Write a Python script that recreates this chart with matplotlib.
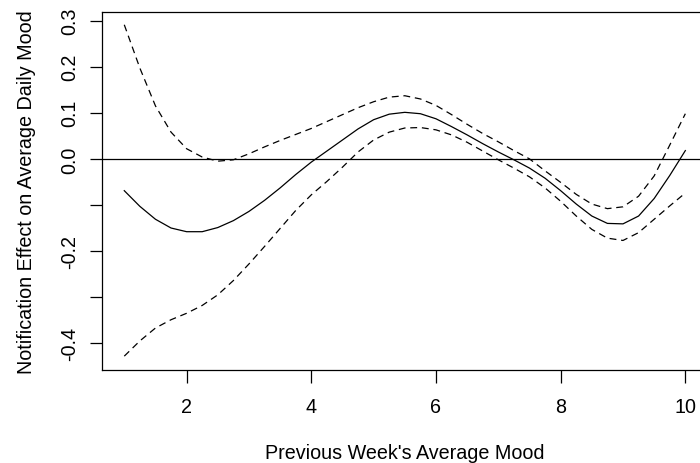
import matplotlib
matplotlib.use("Agg")
import matplotlib.pyplot as plt

plt.rcParams.update(
    {
        "font.family": ["Liberation Sans", "DejaVu Sans"],
        "font.size": 14.2,
    }
)

# previous week's mood (x) and smooth fit with pointwise bands
mood = [1.0, 1.25, 1.5, 1.75, 2.0, 2.25, 2.5, 2.75, 3.0, 3.25, 3.5, 3.75,
        4.0, 4.25, 4.5, 4.75, 5.0, 5.25, 5.5, 5.75, 6.0, 6.25, 6.5, 6.75,
        7.0, 7.25, 7.5, 7.75, 8.0, 8.25, 8.5, 8.75, 9.0, 9.25, 9.5, 9.75, 10.0]

effect = [-0.069, -0.103, -0.131, -0.150, -0.158, -0.158, -0.149, -0.134,
          -0.114, -0.090, -0.063, -0.034, -0.007, 0.017, 0.041, 0.065,
          0.085, 0.097, 0.101, 0.098, 0.087, 0.070, 0.052, 0.033,
          0.015, -0.002, -0.020, -0.042, -0.069, -0.098, -0.124, -0.140,
          -0.141, -0.124, -0.086, -0.036, 0.018]

upper = [0.291, 0.197, 0.115, 0.058, 0.022, 0.004, -0.005, -0.002,
         0.011, 0.026, 0.040, 0.053, 0.066, 0.081, 0.096, 0.111,
         0.124, 0.134, 0.137, 0.130, 0.116, 0.096, 0.075, 0.055,
         0.037, 0.018, 0.000, -0.026, -0.051, -0.077, -0.098, -0.108,
         -0.104, -0.081, -0.037, 0.030, 0.098]

lower = [-0.428, -0.395, -0.367, -0.349, -0.335, -0.318, -0.295, -0.264,
         -0.228, -0.190, -0.151, -0.112, -0.078, -0.049, -0.018, 0.015,
         0.041, 0.058, 0.067, 0.068, 0.063, 0.052, 0.036, 0.017,
         -0.002, -0.020, -0.039, -0.063, -0.092, -0.124, -0.153, -0.172,
         -0.177, -0.160, -0.131, -0.102, -0.074]

xticks = [2, 4, 6, 8, 10]
yticks = [-0.4, -0.3, -0.2, -0.1, 0.0, 0.1, 0.2, 0.3]
ytick_labels = ["-0.4", "", "-0.2", "", "0.0", "0.1", "0.2", "0.3"]

fig = plt.figure(figsize=(7, 4.64), dpi=100)
ax = fig.add_axes([0.1453, 0.2015, 0.866, 0.7698])

ax.plot(mood, effect, color="black", lw=0.9)
ax.plot(mood, upper, color="black", lw=0.9, dashes=(5.5, 3.8))
ax.plot(mood, lower, color="black", lw=0.9, dashes=(5.5, 3.8))
ax.axhline(0, color="black", lw=0.9)

ax.set_xlim(0.638, 10.362)
ax.set_ylim(-0.457, 0.318)

ax.set_xticks(xticks)
ax.set_yticks(yticks)
ax.set_yticklabels(ytick_labels, rotation=90, va="center")

ax.tick_params(axis="x", length=9, width=0.9, pad=10.5, labelsize=14.2)
ax.tick_params(axis="y", length=8.5, width=0.9, pad=8, labelsize=14.2)

for s in ax.spines.values():
    s.set_linewidth(0.9)

ax.set_xlabel("Previous Week's Average Mood", fontsize=14.2, labelpad=20)
ax.set_ylabel("Notification Effect on Average Daily Mood", fontsize=14.2, labelpad=17)

fig.savefig("out.png", dpi=100)
